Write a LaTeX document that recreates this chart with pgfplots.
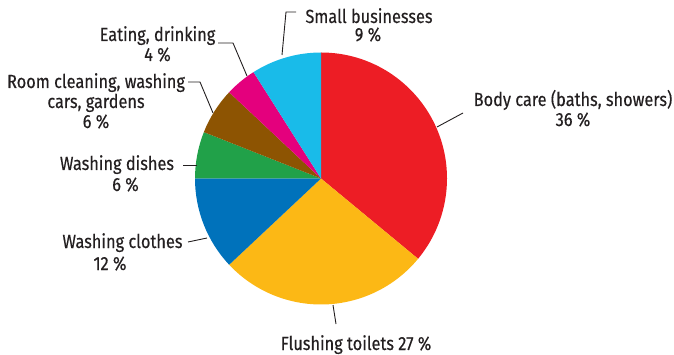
\documentclass[border=0pt]{standalone}
\usepackage{pgfplots}
\pgfplotsset{compat=1.18}
\usepackage{pgfplotstable}
\usepackage{fontspec}
\setmainfont{Fira Sans}[FakeStretch=0.86, FakeBold=0.35]

\definecolor{cBody}{RGB}{237,29,37}
\definecolor{cFlush}{RGB}{252,184,21}
\definecolor{cClothes}{RGB}{0,114,187}
\definecolor{cDishes}{RGB}{33,161,73}
\definecolor{cRoom}{RGB}{141,84,2}
\definecolor{cEat}{RGB}{228,0,125}
\definecolor{cSmall}{RGB}{25,187,233}
\definecolor{txt}{RGB}{35,31,32}

% household water use, per cent (clockwise from the top)
\pgfplotstableread{
share colour
36 cBody
27 cFlush
12 cClothes
6  cDishes
6  cRoom
4  cEat
9  cSmall
}\piedata

\begin{document}
\begin{tikzpicture}
\begin{axis}[
  x=1pt, y=1pt,
  xmin=0, xmax=674, ymin=0, ymax=354,
  y dir=reverse,
  hide axis, clip=false,
  scale only axis,
]
\path (axis cs:0,0) rectangle (axis cs:674,354);

% wedges
\def\cx{321}\def\cy{178.5}\def\rad{126pt}
\pgfmathsetmacro{\angA}{90}
\pgfplotsforeachungrouped \i in {0,...,6}{%
  \pgfplotstablegetelem{\i}{share}\of\piedata
  \let\val=\pgfplotsretval
  \pgfplotstablegetelem{\i}{colour}\of\piedata
  \let\col=\pgfplotsretval
  \pgfmathsetmacro{\angB}{\angA-3.6*\val}
  \edef\wedge{\noexpand\fill[\col] (axis cs:\cx,\cy) -- ++(\angA:\rad)
     arc[start angle=\angA, end angle=\angB, radius=\rad] -- cycle;}
  \wedge
  \global\let\angA=\angB
}

% leader lines
\begin{scope}[draw=txt, line width=0.9pt]
\draw (axis cs:282,55) -- (axis cs:286,12) -- (axis cs:296,12);
\draw (axis cs:218,43) -- (axis cs:233,43) -- (axis cs:247,76);
\draw (axis cs:188,82) -- (axis cs:200,82) -- (axis cs:213,113);
\draw (axis cs:183,165) -- (axis cs:197,165);
\draw (axis cs:188,242) -- (axis cs:207,238);
\draw (axis cs:437,127) -- (axis cs:463,113);
\draw (axis cs:333,305) -- (axis cs:336,324);
\end{scope}

% labels
\begin{scope}[every node/.style={anchor=base, inner sep=0pt, text=txt,
   font=\fontsize{19}{20}\selectfont}]
\node at (axis cs:369,23) {Small businesses};
\node at (axis cs:368,41) {9 \%};
\node at (axis cs:157.5,41) {Eating, drinking};
\node at (axis cs:157.5,61) {4 \%};
\node at (axis cs:96,88) {Room cleaning, washing};
\node at (axis cs:96,108) {cars, gardens};
\node at (axis cs:96,128) {6 \%};
\node at (axis cs:117,170) {Washing dishes};
\node at (axis cs:125.5,191) {6 \%};
\node at (axis cs:122.5,248) {Washing clothes};
\node at (axis cs:110,270) {12 \%};
\node at (axis cs:573,106) {Body care (baths, showers)};
\node at (axis cs:573,126) {36 \%};
\node at (axis cs:356,350) {Flushing toilets 27 \%};
\end{scope}
\end{axis}
\end{tikzpicture}
\end{document}
